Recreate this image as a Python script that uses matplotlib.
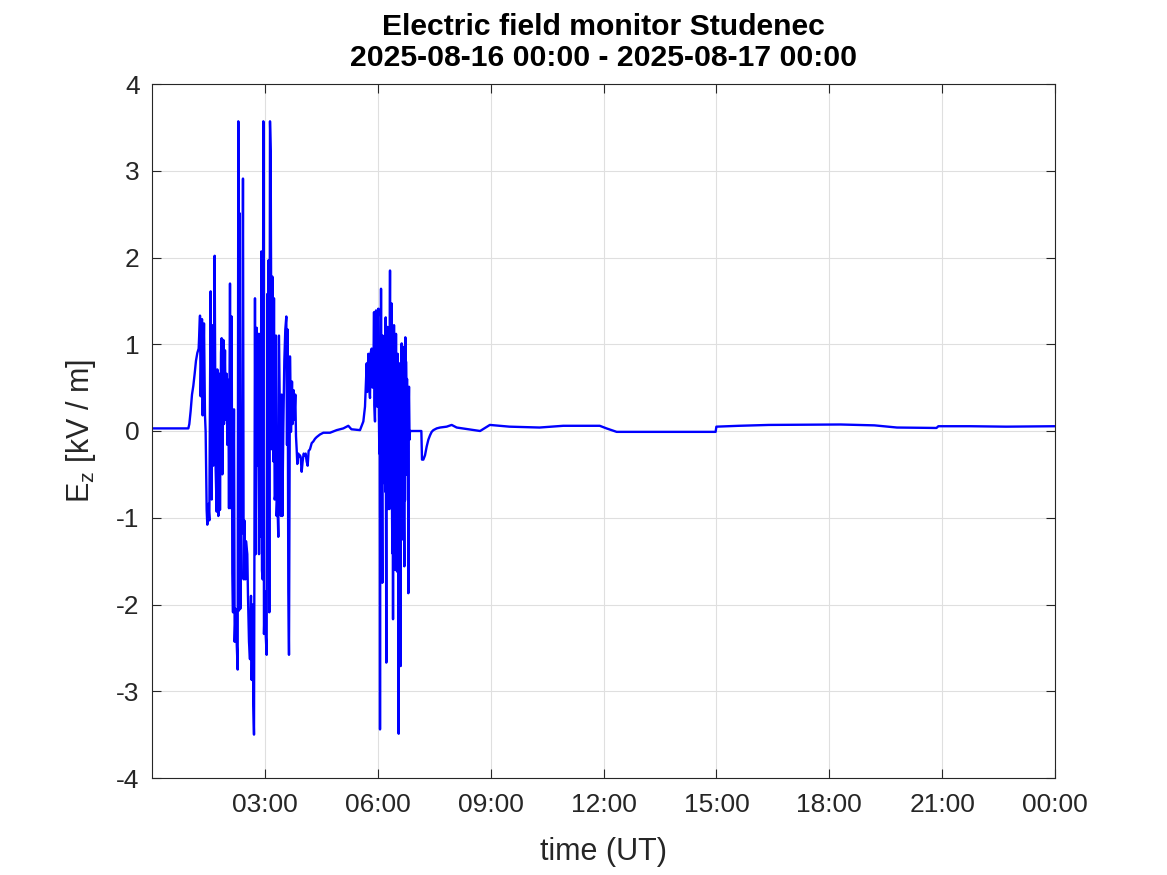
import matplotlib
matplotlib.use("Agg")
import matplotlib.pyplot as plt
import numpy as np

# time in hours since 2025-08-16 00:00 UT, Ez in kV/m
hours = [
    # quiet start + first storm burst
    0.0, 0.966, 0.992, 1.027, 1.063, 1.098, 1.134, 1.169, 1.205, 1.240,
    1.276, 1.293, 1.329, 1.346, 1.382, 1.408, 1.426, 1.453, 1.470, 1.497,
    1.524, 1.541, 1.559, 1.586, 1.603, 1.630, 1.665, 1.692, 1.719, 1.736,
    1.763, 1.789, 1.807, 1.834, 1.851, 1.869, 1.896, 1.913, 1.940, 1.958,
    1.984, 2.002, 2.029, 2.046, 2.073, 2.099, 2.117, 2.135, 2.153, 2.179,
    2.197, 2.223, 2.250, 2.277, 2.294, 2.312, 2.330, 2.347, 2.374, 2.392,
    2.418, 2.436, 2.454, 2.480, 2.498, 2.533, 2.551, 2.578, 2.604, 2.631,
    2.649, 2.675, 2.693, 2.711, 2.737, 2.755, 2.782, 2.799, 2.826, 2.844,
    2.870, 2.888, 2.906, 2.923, 2.941, 2.959, 2.976, 3.003, 3.021, 3.047,
    3.065, 3.083, 3.100, 3.118, 3.136, 3.154, 3.180, 3.198, 3.225, 3.242,
    3.260, 3.278, 3.295, 3.313, 3.331, 3.357, 3.375, 3.402, 3.428, 3.446,
    3.464, 3.490, 3.517, 3.543, 3.570, 3.588, 3.605, 3.623, 3.641, 3.667,
    3.694, 3.721, 3.738, 3.765, 3.783, 3.809, 3.827, 3.845, 3.862, 3.889,
    3.907, 3.933, 3.951, 3.978, 4.004, 4.031, 4.057, 4.084, 4.110, 4.137,
    4.163, 4.199, 4.244, 4.288, 4.332, 4.377, 4.465, 4.554, 4.731, 4.908,
    5.085, 5.218,
    # second burst
    5.300, 5.528, 5.617, 5.661, 5.706, 5.720, 5.750, 5.770, 5.794, 5.810,
    5.839, 5.860, 5.883, 5.901, 5.910, 5.927, 5.940, 5.954, 5.970, 5.989,
    6.000, 6.016, 6.030, 6.042, 6.050, 6.060, 6.070, 6.078, 6.087, 6.095,
    6.105, 6.113, 6.122, 6.130, 6.140, 6.149, 6.160, 6.168, 6.175, 6.190,
    6.200, 6.211, 6.218, 6.228, 6.237, 6.246, 6.255, 6.264, 6.272, 6.281,
    6.290, 6.300, 6.310, 6.318, 6.326, 6.335, 6.343, 6.352, 6.361, 6.370,
    6.379, 6.388, 6.397, 6.406, 6.415, 6.423, 6.432, 6.441, 6.450, 6.459,
    6.468, 6.476, 6.485, 6.494, 6.503, 6.512, 6.521, 6.530, 6.540, 6.548,
    6.556, 6.565, 6.574, 6.583, 6.592, 6.600, 6.609, 6.618, 6.627, 6.636,
    6.645, 6.654, 6.663, 6.672, 6.680, 6.689, 6.698, 6.707, 6.716, 6.724,
    6.733, 6.742, 6.751, 6.760, 6.770, 6.778, 6.787, 6.800, 6.813, 6.822,
    6.831, 6.845, 6.857, 7.159, 7.176, 7.212, 7.256, 7.300, 7.345, 7.389,
    7.433, 7.478, 7.566, 7.655, 7.832, 7.965, 8.098,
    # fair weather rest of the day
    8.72, 8.98, 9.5, 10.3, 10.93, 11.9, 12.08, 12.35, 14.98, 15.0,
    15.6, 16.4, 18.3, 19.2, 19.8, 20.85, 20.9, 21.75, 22.7, 24.0,
]
ez = [
    0.03, 0.03, 0.08, 0.23, 0.42, 0.52, 0.66, 0.81, 0.90, 0.95,
    1.33, 0.40, 1.29, 0.18, 1.24, 0.18, -0.01, -0.91, -1.08, -0.84,
    -1.03, 0.40, 1.61, -0.79, 1.22, -0.40, 2.02, -0.45, -0.93, 0.71,
    -0.98, 0.66, -0.91, 0.90, 1.07, -0.50, 1.05, 0.08, 0.93, 0.13,
    0.66, -0.16, 0.59, -0.89, 1.70, -0.89, 1.32, -1.64, -2.09, 0.25,
    -2.43, -2.05, -2.43, -2.75, 3.57, -2.07, 2.51, -2.05, -0.21, -1.18,
    2.91, -1.71, -1.03, -1.71, -1.27, -1.42, -1.90, -2.43, -2.63, -1.90,
    -2.87, -2.00, -3.16, -3.50, 1.53, -1.42, 1.19, -0.40, 1.12, -1.42,
    1.12, -1.22, 2.07, -1.61, -1.71, 3.57, -2.34, -1.85, -2.34, -2.58,
    1.58, -0.45, 1.97, -2.09, 3.57, 3.23, -0.21, 1.78, -0.35, 1.53,
    -0.79, -0.74, 1.10, -0.98, -0.76, -1.22, 1.10, 0.03, -0.98, 0.42,
    -0.98, 0.03, 0.81, 1.17, 1.32, -0.16, 1.17, -1.85, -2.58, 0.86,
    -0.01, 0.57, 0.08, 0.47, 0.13, 0.42, -0.06, -0.21, -0.38, -0.26,
    -0.30, -0.28, -0.30, -0.47, -0.35, -0.26, -0.28, -0.26, -0.35, -0.40,
    -0.23, -0.21, -0.14, -0.12, -0.09, -0.07, -0.04, -0.02, -0.02, 0.01,
    0.03, 0.06,
    0.02, 0.01, 0.11, 0.28, 0.78, 0.45, 0.89, 0.55, 0.38, 0.90,
    0.95, 0.50, 0.55, 1.37, 0.30, 0.11, 1.20, 1.39, 0.40, 0.28,
    1.30, 1.41, 0.20, -0.26, 1.00, -3.44, 0.90, -0.50, 1.64, -0.30,
    1.00, -0.80, -1.75, 1.10, -0.60, 0.68, -0.40, 0.90, -0.52, 1.00,
    -0.70, 1.31, -0.80, -2.67, 0.90, -0.70, 1.00, 1.20, -0.90, 0.80,
    -0.66, 1.00, -0.90, 0.90, 1.85, -0.80, 0.90, -0.64, 1.00, 1.47,
    -0.90, -1.41, 0.80, -2.17, 0.90, -0.70, 1.22, -0.90, 0.80, -1.60,
    0.90, -0.80, 1.12, -0.90, 0.70, -1.62, 0.80, 0.89, -1.20, 0.50,
    -3.49, 0.60, -1.00, 0.78, -1.20, 0.60, -2.71, 0.70, -1.00, 1.01,
    -0.90, 0.70, -1.25, 0.60, -1.00, 0.97, -1.00, -1.56, 0.60, -0.80,
    1.08, -0.50, 0.80, 0.51, -0.50, 0.60, -0.22, 0.50, -1.87, 0.30,
    0.51, -0.10, 0.0, 0.0, -0.33, -0.33, -0.28, -0.18, -0.10, -0.05,
    -0.01, 0.01, 0.03, 0.04, 0.05, 0.07, 0.04,
    0.0, 0.07, 0.05, 0.04, 0.06, 0.06, 0.03, -0.01, -0.01, 0.05,
    0.06, 0.07, 0.075, 0.065, 0.04, 0.035, 0.055, 0.055, 0.05, 0.055,
]

xticks = [3, 6, 9, 12, 15, 18, 21, 24]
xticklabels = ['03:00', '06:00', '09:00', '12:00', '15:00', '18:00', '21:00', '00:00']
yticks = [-4, -3, -2, -1, 0, 1, 2, 3, 4]

plt.rcParams['font.family'] = ['Liberation Sans', 'DejaVu Sans']

fig = plt.figure(figsize=(11.67, 8.75), dpi=100)
ax = fig.add_axes([152 / 1167, 1 - 778 / 875, 903 / 1167, 694 / 875])

ax.plot(hours, ez, color='#0000ff', linewidth=1.7)

ax.set_xlim(0, 24)
ax.set_ylim(-4, 4)
ax.set_xticks(xticks)
ax.set_xticklabels(xticklabels)
ax.set_yticks(yticks)
ax.set_yticklabels([str(v) for v in yticks])

ax.grid(True, color='#dfdfdf', linewidth=0.8)
ax.set_axisbelow(True)
ax.tick_params(direction='in', length=6.5, width=0.8, colors='#262626',
               labelsize=19, top=True, right=True, pad=11)
ax.tick_params(axis='y', pad=9)
for spine in ax.spines.values():
    spine.set_edgecolor('#262626')
    spine.set_linewidth(0.8)

ax.set_xlabel('time (UT)', fontsize=22, color='#262626', labelpad=14)
ax.set_ylabel(r'E$_{\mathregular{z}}$ [kV / m]', fontsize=22, color='#262626', labelpad=13)
ax.set_title('Electric field monitor Studenec\n2025-08-16 00:00 - 2025-08-17 00:00',
             fontsize=21.7, fontweight='bold', linespacing=1.13, pad=13)

fig.savefig('out.png', dpi=100)
